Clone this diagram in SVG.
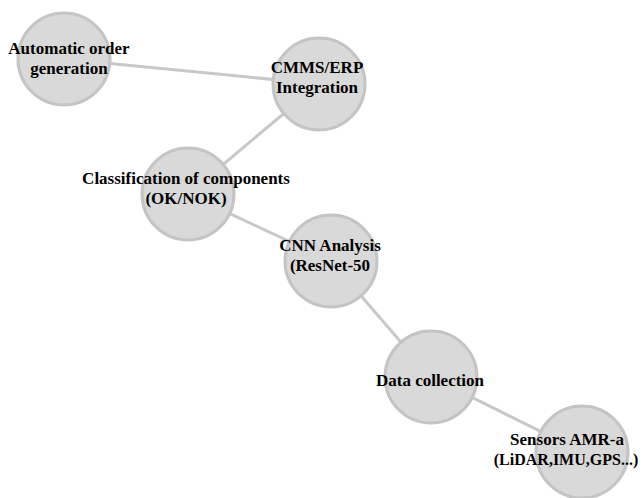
<svg xmlns="http://www.w3.org/2000/svg" width="643" height="498" viewBox="0 0 643 498">
<style>
.edge{stroke:#c8c8c8;stroke-width:3;fill:none}
.node circle{fill:#d9d9d9;stroke:#c4c4c4;stroke-width:3}
.node text{font-family:"Liberation Serif","Times New Roman",serif;font-weight:bold;font-size:17px;fill:#000;text-anchor:middle}
.node text.sm{font-size:16px}
</style>
<rect width="643" height="498" fill="#fff"/>
<g id="connectors">
<line class="edge" x1="64" y1="59" x2="319" y2="84"/>
<line class="edge" x1="319" y1="84" x2="188" y2="194"/>
<line class="edge" x1="188" y1="194" x2="331" y2="261"/>
<line class="edge" x1="331" y1="261" x2="431" y2="377"/>
<line class="edge" x1="431" y1="377" x2="582" y2="452"/>
</g>
<g id="node-order" class="node">
<circle cx="64" cy="59" r="46"/>
<text x="69" y="54">Automatic order</text>
<text x="69" y="74">generation</text>
</g>
<g id="node-cmms" class="node">
<circle cx="319" cy="84" r="46"/>
<text x="317" y="73">CMMS/ERP</text>
<text x="317" y="93">Integration</text>
</g>
<g id="node-class" class="node">
<circle cx="188" cy="194" r="46"/>
<text x="186" y="184">Classification of components</text>
<text x="186" y="204">(OK/NOK)</text>
</g>
<g id="node-cnn" class="node">
<circle cx="331" cy="261" r="46"/>
<text x="330" y="251">CNN Analysis</text>
<text x="330" y="271">(ResNet-50</text>
</g>
<g id="node-data" class="node">
<circle cx="431" cy="377" r="46"/>
<text x="430" y="386">Data collection</text>
</g>
<g id="node-sensors" class="node">
<circle cx="582" cy="452" r="46"/>
<text x="567" y="445">Sensors AMR-a</text>
<text class="sm" x="566" y="465">(LiDAR,IMU,GPS...)</text>
</g>
</svg>
